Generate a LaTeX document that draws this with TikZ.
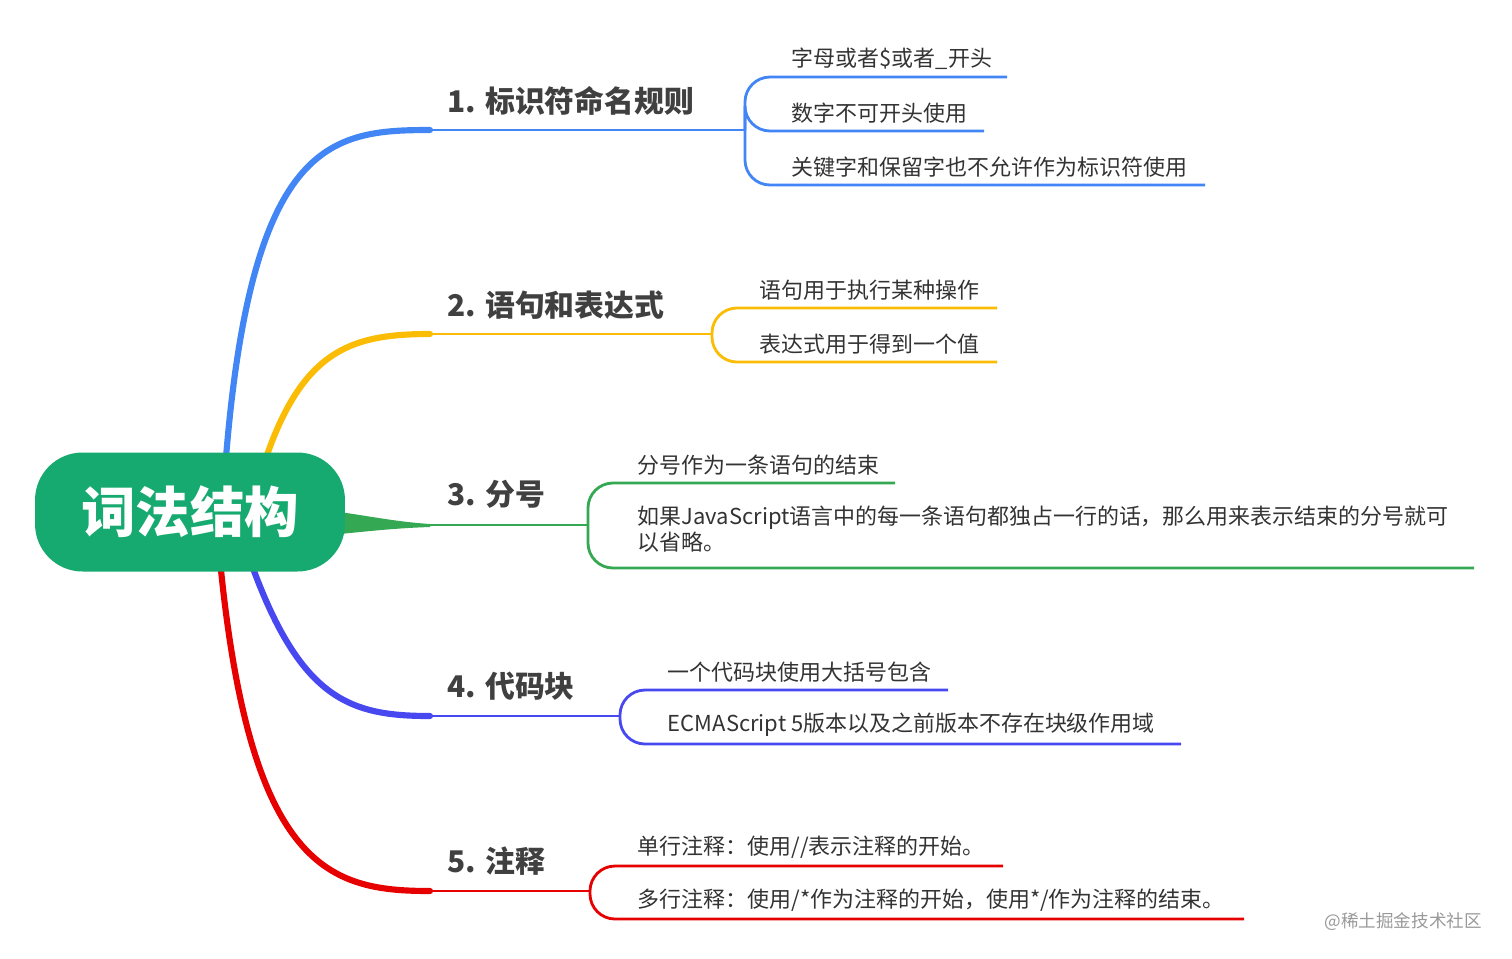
\documentclass[tikz,border=0pt]{standalone}
\usepackage{fontspec}
\setmainfont{Noto Sans CJK SC}
\usetikzlibrary{positioning}
\definecolor{cblue}{RGB}{66,133,244}
\definecolor{cyellow}{RGB}{251,188,5}
\definecolor{cgreen}{RGB}{52,168,83}
\definecolor{cviolet}{RGB}{72,72,240}
\definecolor{cred}{RGB}{230,0,0}
\definecolor{croot}{RGB}{22,170,112}
\tikzset{
 leaf/.style={anchor=south west, inner sep=2pt, font=\fontsize{12.5}{15}\selectfont, text=black!80},
 topic/.style={anchor=west, inner sep=0pt, font=\bfseries\fontsize{17}{20}\selectfont, text=black!75},
 stem/.style={line width=3.5pt, line cap=round},
 twig/.style={line width=1.6pt, rounded corners=0.5cm}
}
\begin{document}
\begin{tikzpicture}[x=0.02cm, y=-0.02cm]
 \useasboundingbox (0,0) rectangle (1512,958);
 % branches
 \coordinate (f1) at (745,130);
 \coordinate (f2) at (712,334);
 \coordinate (f3) at (588,525);
 \coordinate (f4) at (620,716);
 \coordinate (f5) at (590,891);
 \draw [stem, cblue] (225,470) .. controls (250,140) and (330,130) .. (430,130);
 \draw [line width=1.6pt, cblue] (430,130) -- (f1);
 \draw [stem, cyellow] (262,470) .. controls (300,350) and (350,334) .. (430,334);
 \draw [line width=1.6pt, cyellow] (430,334) -- (f2);
 \fill [cgreen] (340,512) .. controls (380,518) and (400,522) .. (430,524) -- (430,527) .. controls (400,528) and (380,530) .. (340,534) -- cycle;
 \draw [line width=1.6pt, cgreen] (430,525) -- (f3);
 \draw [stem, cviolet] (250,560) .. controls (300,700) and (350,716) .. (430,716);
 \draw [line width=1.6pt, cviolet] (430,716) -- (f4);
 \draw [stem, cred] (220,560) .. controls (250,870) and (330,891) .. (430,891);
 \draw [line width=1.6pt, cred] (430,891) -- (f5);
 % root
 \node (root) [fill=croot, rounded corners=0.95cm, minimum width=6.2cm, minimum height=2.38cm,
  text=white, font=\bfseries\fontsize{31}{36}\selectfont] at (190,512) {词法结构};
 % topics
 \node (t1) [topic] at (447,101) {1. 标识符命名规则};
 \node (t2) [topic] at (447,305) {2. 语句和表达式};
 \node (t3) [topic] at (447,494) {3. 分号};
 \node (t4) [topic] at (447,686) {4. 代码块};
 \node (t5) [topic] at (447,861) {5. 注释};
 % leaves
 \draw [twig, cblue] (f1) |- (1007,77);
 \draw [twig, cblue] (f1) -- (745,131) -- (984,131);
 \draw [twig, cblue] (f1) |- (1205,185);
 \node (l11) [leaf] at (788,73) {字母或者\$或者\_开头};
 \node (l12) [leaf] at (788,127) {数字不可开头使用};
 \node (l13) [leaf] at (788,181) {关键字和保留字也不允许作为标识符使用};
 \draw [twig, cyellow] (f2) |- (997,308);
 \draw [twig, cyellow] (f2) |- (997,362);
 \node (l21) [leaf] at (756,304) {语句用于执行某种操作};
 \node (l22) [leaf] at (756,358) {表达式用于得到一个值};
 \draw [twig, cgreen] (f3) |- (895,483);
 \draw [twig, cgreen] (f3) |- (1474,568);
 \node (l31) [leaf] at (634,479) {分号作为一条语句的结束};
 \node (l32) [leaf, align=left, anchor=north west] at (634,502)
  {如果JavaScript语言中的每一条语句都独占一行的话，那么用来表示结束的分号就可\\以省略。};
 \draw [twig, cviolet] (f4) |- (948,690);
 \draw [twig, cviolet] (f4) |- (1181,744);
 \node (l41) [leaf] at (664,686) {一个代码块使用大括号包含};
 \node (l42) [leaf] at (664,740) {ECMAScript 5版本以及之前版本不存在块级作用域};
 \draw [twig, cred] (f5) |- (1003,866);
 \draw [twig, cred] (f5) |- (1244,919);
 \node (l51) [leaf] at (634,862) {单行注释：使用//表示注释的开始。};
 \node (l52) [leaf] at (634,915) {多行注释：使用/*作为注释的开始，使用*/作为注释的结束。};
 \node (wm) [anchor=east, text=black!40, font=\fontsize{10}{12}\selectfont] at (1488,922) {@稀土掘金技术社区};
\end{tikzpicture}
\end{document}
